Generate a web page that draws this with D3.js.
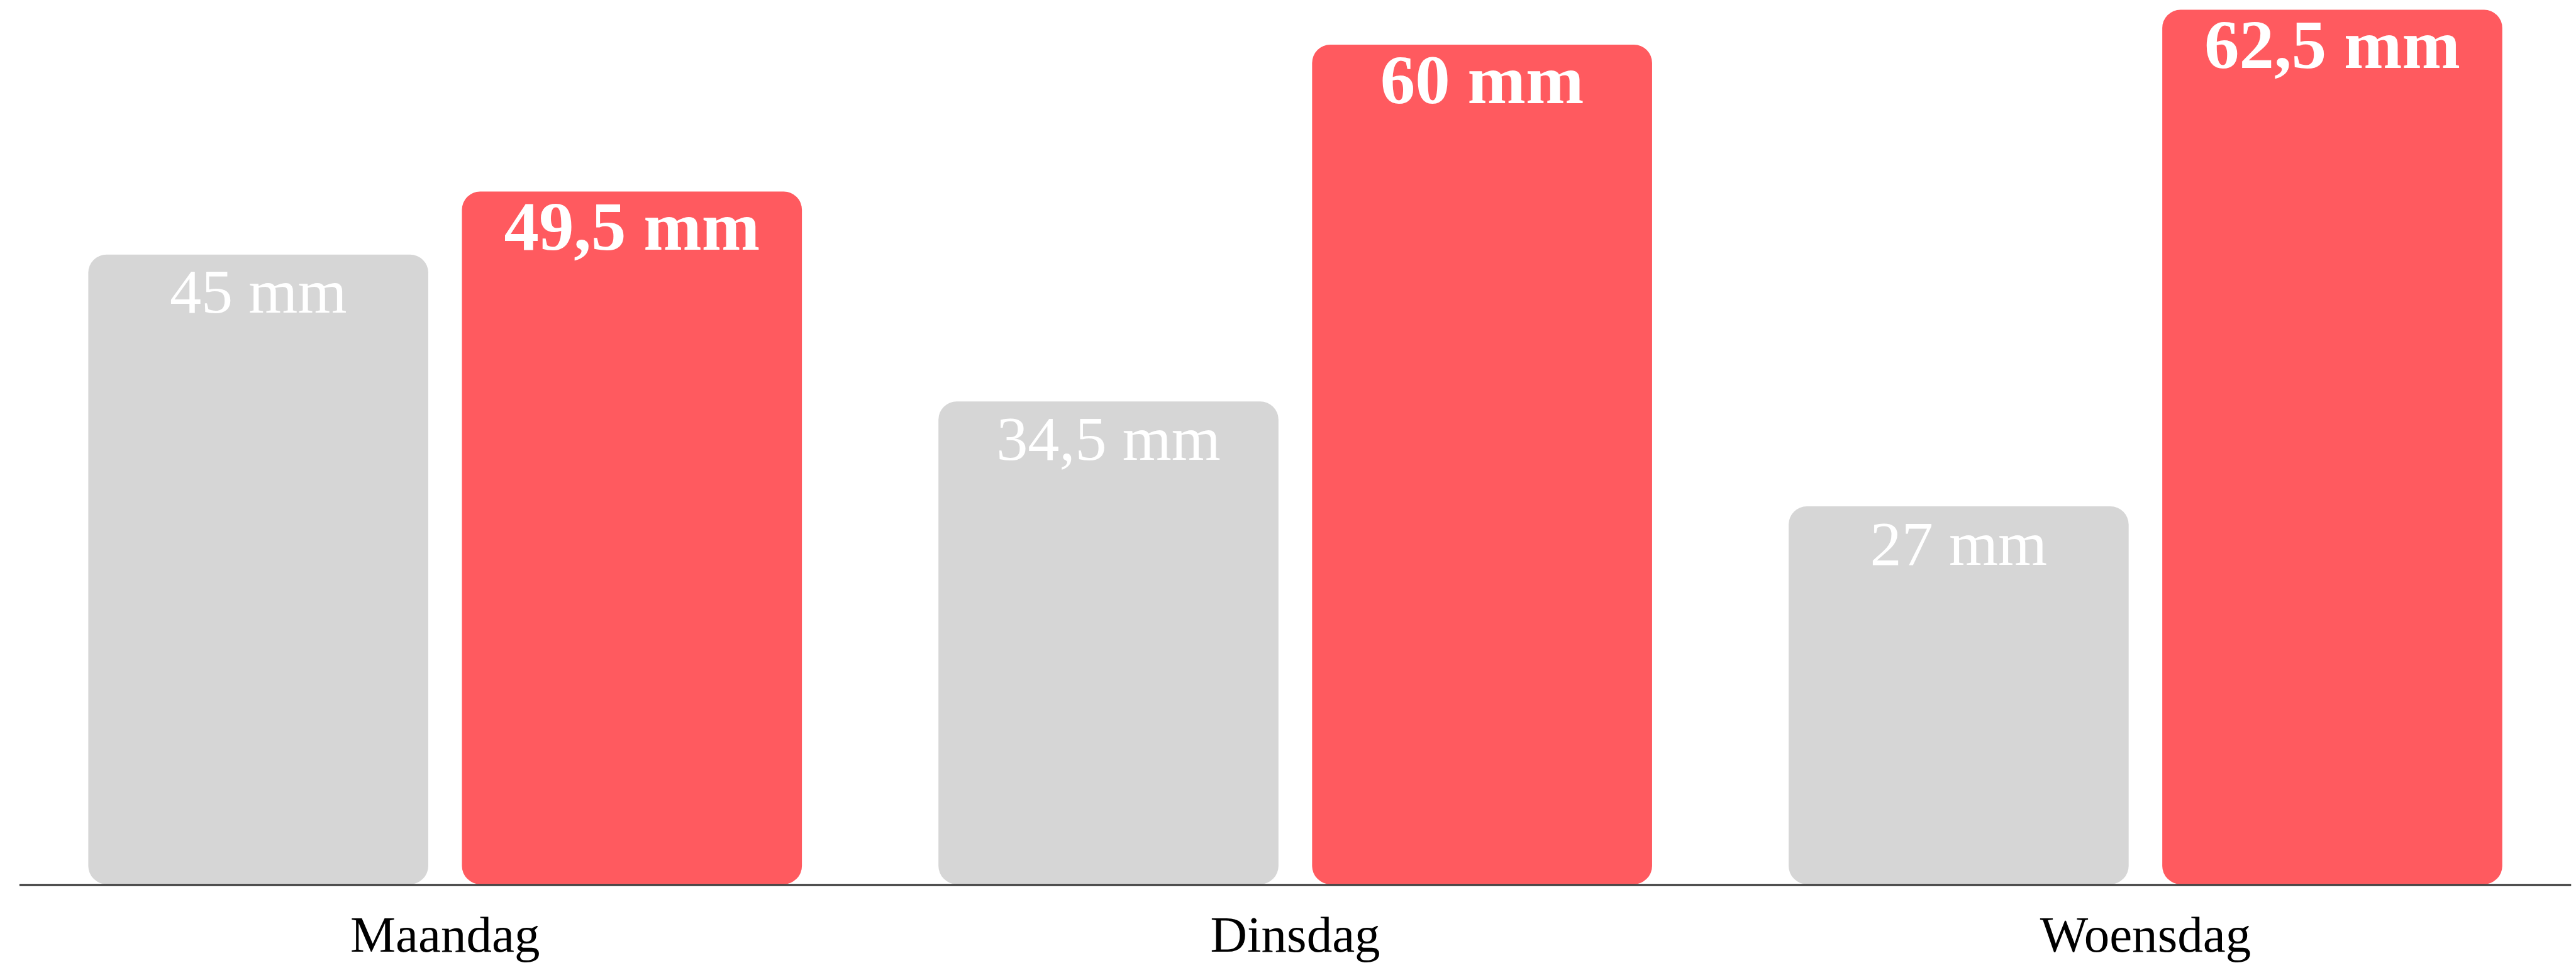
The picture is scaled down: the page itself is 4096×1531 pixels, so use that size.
<!DOCTYPE html>
<html>
<head>
<meta charset="utf-8">
<script src="https://cdn.jsdelivr.net/npm/d3@7"></script>
<style>
  html, body { margin: 0; padding: 0; background: #ffffff; overflow: hidden; }
  svg { display: block; }
</style>
</head>
<body>
<svg id="chart"></svg>
<script>
// Neerslag per dag, in millimeter
const days = ["Maandag", "Dinsdag", "Woensdag"];
const seriesKeys = ["reeksA", "reeksB"];
const valuesA = [45, 34.5, 27];
const valuesB = [49.5, 60, 62.5];

const rows = days.map((day, i) => ({ day, reeksA: valuesA[i], reeksB: valuesB[i] }));

// Drawing is laid out on a 4245 x 1587 canvas and scaled to the window
const W = 4245, H = 1587;
const svg = d3.select("#chart")
  .attr("width", 4096)
  .attr("height", 1531)
  .attr("viewBox", `0 0 ${W} ${H}`)
  .attr("preserveAspectRatio", "none");

const left = 32, right = 4237, baseY = 1457, topY = 16;

const x0 = d3.scaleBand().domain(days).range([left, right])
  .paddingInner(0.1606).paddingOuter(0.081);
const x1 = d3.scaleBand().domain(seriesKeys).range([0, x0.bandwidth()])
  .paddingInner(0.09).paddingOuter(0);
const y = d3.scaleLinear().domain([0, d3.max(valuesB)]).range([baseY, topY]);

const color = d3.scaleOrdinal().domain(seriesKeys).range(["#d6d6d6", "#ff5a5f"]);
const nl = d3.formatLocale({ decimal: ",", thousands: ".", grouping: [3], currency: ["€ ", ""] });
const fmt = nl.format("~f");

const groups = svg.append("g").selectAll("g")
  .data(rows)
  .join("g")
  .attr("transform", d => `translate(${x0(d.day)},0)`);

const bars = groups.selectAll("g")
  .data(d => seriesKeys.map(k => ({ key: k, value: d[k] })))
  .join("g");

bars.append("rect")
  .attr("x", d => x1(d.key))
  .attr("y", d => y(d.value))
  .attr("width", x1.bandwidth())
  .attr("height", d => y(0) - y(d.value))
  .attr("rx", 30)
  .attr("ry", 30)
  .attr("fill", d => color(d.key));

bars.append("text")
  .attr("x", d => x1(d.key) + x1.bandwidth() / 2)
  .attr("y", d => y(d.value) + 96)
  .attr("text-anchor", "middle")
  .attr("fill", "#ffffff")
  .attr("font-family", "'Liberation Serif', serif")
  .attr("font-size", d => d.key === "reeksB" ? 115 : 104)
  .attr("font-weight", d => d.key === "reeksB" ? "bold" : "normal")
  .text(d => `${fmt(d.value)} mm`);

// Baseline axis with day names
const xAxis = d3.axisBottom(x0).tickSize(0).tickPadding(0);
const axisG = svg.append("g")
  .attr("transform", `translate(0,${baseY + 1.5})`)
  .call(xAxis);
axisG.select(".domain")
  .attr("d", `M${left},0H${right}`)
  .attr("stroke", "#333333")
  .attr("stroke-width", 3);
axisG.selectAll(".tick text")
  .attr("dy", null)
  .attr("y", 110)
  .attr("fill", "#000000")
  .attr("font-family", "'Liberation Serif', serif")
  .attr("font-size", 84);
</script>
</body>
</html>
